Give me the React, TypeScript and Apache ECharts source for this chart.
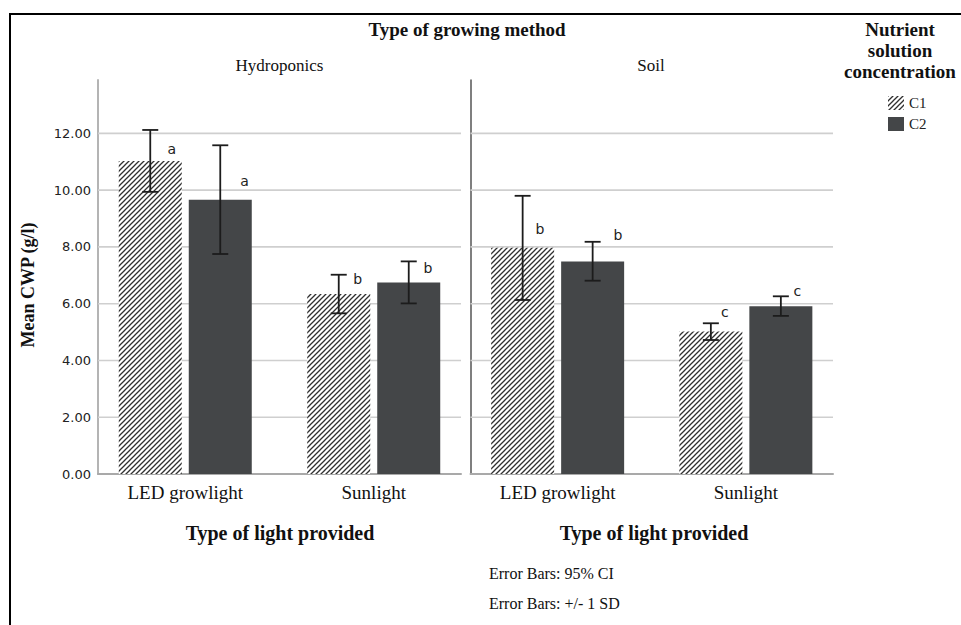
import React, { useEffect, useRef } from 'react';
import * as echarts from 'echarts';

// ---------- data ----------
const lightTypes = ['LED growlight', 'Sunlight'];
const growingMethods = ['Hydroponics', 'Soil'];
const concentrations = ['C1', 'C2'];
const yTicks = [0, 2, 4, 6, 8, 10, 12];
const yMax = 13.88;

const hydroC1 = [11.03, 6.34];
const hydroC2 = [9.66, 6.75];
const soilC1 = [7.97, 5.02];
const soilC2 = [7.49, 5.91];

const hydroC1Low = [9.94, 5.66];
const hydroC1High = [12.12, 7.02];
const hydroC2Low = [7.75, 6.01];
const hydroC2High = [11.58, 7.49];
const soilC1Low = [6.13, 4.72];
const soilC1High = [9.8, 5.31];
const soilC2Low = [6.81, 5.57];
const soilC2High = [8.18, 6.26];

const hydroLetters = ['a', 'a', 'b', 'b'];
const hydroLetterX = [-0.071, 0.314, 0.915, 1.287];
const hydroLetterY = [11.44, 10.33, 6.87, 7.27];
const soilLetters = ['b', 'b', 'c', 'c'];
const soilLetterX = [-0.094, 0.32, 0.888, 1.274];
const soilLetterY = [8.62, 8.42, 5.72, 6.46];

// ---------- style constants ----------
const X_MIN = -0.463;
const X_MAX = 1.463;
const BAR_W = 63;
const BAR_GAP_PX = 7;
const SERIF = "'Liberation Serif', 'Times New Roman', serif";
const SANS = "'DejaVu Sans', sans-serif";

function makeHatch(): HTMLCanvasElement {
  const c = document.createElement('canvas');
  const s = 5;
  c.width = s;
  c.height = s;
  const ctx = c.getContext('2d')!;
  ctx.fillStyle = '#ffffff';
  ctx.fillRect(0, 0, s, s);
  ctx.strokeStyle = '#2f2f2f';
  ctx.lineWidth = 1.3;
  ctx.beginPath();
  ctx.moveTo(-1, s + 1);
  ctx.lineTo(s + 1, -1);
  ctx.moveTo(-1, 1);
  ctx.lineTo(1, -1);
  ctx.moveTo(s - 1, s + 1);
  ctx.lineTo(s + 1, s - 1);
  ctx.stroke();
  return c;
}

export default function App() {
  const ref = useRef<HTMLDivElement>(null);

  useEffect(() => {
    if (!ref.current) return;
    const chart = echarts.init(ref.current, undefined, { renderer: 'svg' });
    const hatch = { image: makeHatch(), repeat: 'repeat' } as any;
    const dark = '#444648';

    const panels = [
      {
        c1: hydroC1, c2: hydroC2,
        c1Low: hydroC1Low, c1High: hydroC1High, c2Low: hydroC2Low, c2High: hydroC2High,
        letters: hydroLetters, lx: hydroLetterX, ly: hydroLetterY,
      },
      {
        c1: soilC1, c2: soilC2,
        c1Low: soilC1Low, c1High: soilC1High, c2Low: soilC2Low, c2High: soilC2High,
        letters: soilLetters, lx: soilLetterX, ly: soilLetterY,
      },
    ];

    const grids = [
      { left: 98, top: 80, width: 363, height: 394 },
      { left: 470.5, top: 80, width: 362.5, height: 394 },
    ];

    const xAxes = grids.map((_, g) => ({
      type: 'value',
      gridIndex: g,
      min: X_MIN,
      max: X_MAX,
      axisLine: { show: true, onZero: false, lineStyle: { color: '#a9a9a9', width: 2 } },
      axisTick: { show: false },
      axisLabel: { show: false },
      splitLine: { show: false },
    }));

    const yAxes = grids.map((_, g) => ({
      type: 'value',
      gridIndex: g,
      min: 0,
      max: yMax,
      interval: 2,
      axisLine: {
        show: true,
        onZero: false,
        lineStyle: { color: g === 0 ? '#b4b4b4' : '#555555', width: g === 0 ? 2 : 1.5 },
      },
      axisTick: { show: false },
      splitLine: { show: false },
      axisLabel: {
        show: g === 0,
        showMaxLabel: false,
        margin: 7,
        fontFamily: SANS,
        fontSize: 13,
        color: '#222',
        formatter: (v: number) => (yTicks.indexOf(v) >= 0 ? v.toFixed(2) : ''),
      },
    }));

    const series: any[] = [];
    const offset = (BAR_W + BAR_GAP_PX) / 2;

    panels.forEach((p, g) => {
      // gridlines
      series.push({
        type: 'custom',
        xAxisIndex: g,
        yAxisIndex: g,
        z: 1,
        silent: true,
        data: yTicks.filter((v) => v > 0).map((v) => [0, v]),
        encode: { x: 0, y: 1 },
        renderItem: (params: any, api: any) => {
          const cs = params.coordSys;
          const y = api.coord([0, api.value(1)])[1];
          return {
            type: 'line',
            shape: { x1: cs.x, y1: y, x2: cs.x + cs.width, y2: y },
            style: { stroke: '#cfcfcf', lineWidth: 1.6 },
          };
        },
      });
      // bars
      series.push({
        type: 'bar',
        name: concentrations[0],
        xAxisIndex: g,
        yAxisIndex: g,
        z: 2,
        barWidth: BAR_W,
        barGap: `${(BAR_GAP_PX / BAR_W) * 100}%`,
        data: p.c1.map((v, i) => [i, v]),
        itemStyle: { color: hatch },
      });
      series.push({
        type: 'bar',
        name: concentrations[1],
        xAxisIndex: g,
        yAxisIndex: g,
        z: 2,
        barWidth: BAR_W,
        barGap: `${(BAR_GAP_PX / BAR_W) * 100}%`,
        data: p.c2.map((v, i) => [i, v]),
        itemStyle: { color: dark },
      });
      // error bars
      [
        { low: p.c1Low, high: p.c1High, off: -offset },
        { low: p.c2Low, high: p.c2High, off: offset },
      ].forEach((e) => {
        series.push({
          type: 'custom',
          xAxisIndex: g,
          yAxisIndex: g,
          z: 5,
          silent: true,
          data: e.low.map((lo, i) => [i, lo, e.high[i]]),
          encode: { x: 0, y: [1, 2] },
          renderItem: (_params: any, api: any) => {
            const pl = api.coord([api.value(0), api.value(1)]);
            const ph = api.coord([api.value(0), api.value(2)]);
            const cx = pl[0] + e.off;
            const st = { stroke: '#1c1c1c', lineWidth: 1.8 };
            return {
              type: 'group',
              children: [
                { type: 'line', shape: { x1: cx, y1: ph[1], x2: cx, y2: pl[1] }, style: st },
                { type: 'line', shape: { x1: cx - 8, y1: ph[1], x2: cx + 8, y2: ph[1] }, style: st },
                { type: 'line', shape: { x1: cx - 8, y1: pl[1], x2: cx + 8, y2: pl[1] }, style: st },
              ],
            };
          },
        });
      });
      // significance letters
      series.push({
        type: 'custom',
        xAxisIndex: g,
        yAxisIndex: g,
        z: 6,
        silent: true,
        data: p.lx.map((x, i) => [x, p.ly[i]]),
        encode: { x: 0, y: 1 },
        renderItem: (params: any, api: any) => {
          const pt = api.coord([api.value(0), api.value(1)]);
          return {
            type: 'text',
            x: pt[0],
            y: pt[1],
            style: {
              text: p.letters[params.dataIndex],
              fill: '#222',
              font: `14px ${SANS}`,
              align: 'center',
              verticalAlign: 'middle',
            },
          };
        },
      });
      // category labels
      series.push({
        type: 'custom',
        xAxisIndex: g,
        yAxisIndex: g,
        z: 6,
        silent: true,
        data: lightTypes.map((_, i) => [i, 0]),
        encode: { x: 0, y: 1 },
        renderItem: (params: any, api: any) => {
          const pt = api.coord([api.value(0), 0]);
          return {
            type: 'text',
            x: pt[0],
            y: pt[1] + 18,
            style: {
              text: lightTypes[params.dataIndex],
              fill: '#111',
              font: `19px ${SERIF}`,
              align: 'center',
              verticalAlign: 'middle',
            },
          };
        },
      });
    });

    const txt = (
      x: number,
      y: number,
      text: string,
      size: number,
      bold = false,
      align = 'center',
      extra: any = {}
    ) => ({
      type: 'text',
      x,
      y,
      ...extra,
      style: {
        text,
        fill: '#111',
        font: `${bold ? 'bold ' : ''}${size}px ${SERIF}`,
        align,
        verticalAlign: 'middle',
        lineHeight: extra.lineHeight,
      },
    });

    chart.setOption({
      animation: false,
      backgroundColor: '#ffffff',
      grid: grids,
      xAxis: xAxes,
      yAxis: yAxes,
      legend: {
        orient: 'vertical',
        left: 883,
        top: 90.5,
        itemWidth: 16,
        itemHeight: 14,
        itemGap: 6,
        icon: 'rect',
        selectedMode: false,
        data: concentrations,
        textStyle: { fontFamily: SERIF, fontSize: 15, color: '#222' },
      },
      series,
      graphic: [
        { type: 'line', shape: { x1: 10, y1: 14, x2: 961, y2: 14 }, style: { stroke: '#000', lineWidth: 2 } },
        { type: 'line', shape: { x1: 10, y1: 13, x2: 10, y2: 625 }, style: { stroke: '#000', lineWidth: 2 } },
        txt(467, 29, 'Type of growing method', 19, true),
        txt(279.5, 65, growingMethods[0], 17),
        txt(651, 65, growingMethods[1], 17),
        {
          type: 'text',
          x: 900,
          y: 50,
          style: {
            text: 'Nutrient\nsolution\nconcentration',
            fill: '#111',
            font: `bold 19px ${SERIF}`,
            align: 'center',
            verticalAlign: 'middle',
            lineHeight: 21,
          },
        },
        {
          type: 'text',
          x: 28,
          y: 285,
          rotation: Math.PI / 2,
          style: {
            text: 'Mean CWP (g/l)',
            fill: '#111',
            font: `bold 18px ${SERIF}`,
            align: 'center',
            verticalAlign: 'middle',
          },
        },
        txt(280, 533, 'Type of light provided', 20, true),
        txt(654, 533, 'Type of light provided', 20, true),
        txt(489, 573, 'Error Bars: 95% CI', 16, false, 'left'),
        txt(489, 603, 'Error Bars: +/- 1 SD', 16, false, 'left'),
      ],
    });

    return () => chart.dispose();
  }, []);

  return (
    <div
      ref={ref}
      style={{ position: 'fixed', left: 0, top: 0, width: 961, height: 625, background: '#fff' }}
    />
  );
}
